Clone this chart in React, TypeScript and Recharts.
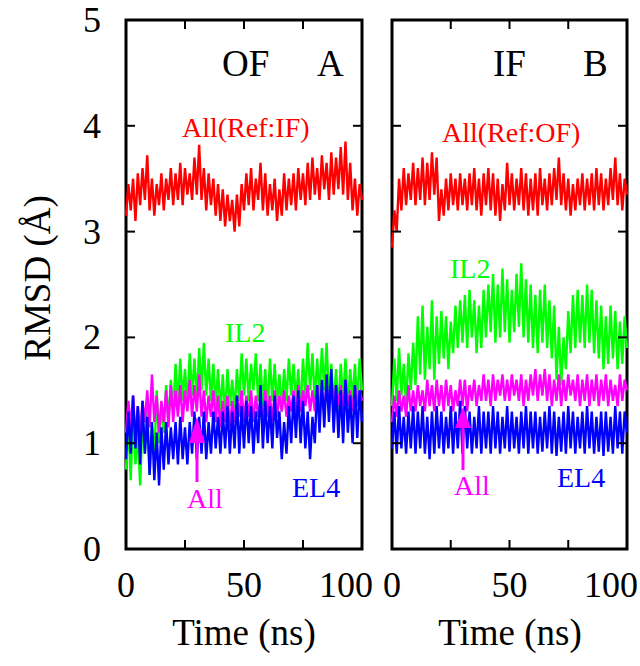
import { LineChart, Line, XAxis, YAxis, ReferenceArea } from 'recharts'

const time = [
  0, 1, 2, 3, 4, 5, 6, 7, 8, 9, 10, 11, 12, 13, 14, 15, 16, 17, 18, 19, 20, 21, 22, 23, 24, 25, 26, 27, 28, 29,
  30, 31, 32, 33, 34, 35, 36, 37, 38, 39, 40, 41, 42, 43, 44, 45, 46, 47, 48, 49, 50, 51, 52, 53, 54, 55, 56, 57, 58, 59,
  60, 61, 62, 63, 64, 65, 66, 67, 68, 69, 70, 71, 72, 73, 74, 75, 76, 77, 78, 79, 80, 81, 82, 83, 84, 85, 86, 87, 88, 89,
  90, 91, 92, 93, 94, 95, 96, 97, 98, 99, 100,
]

// panel A (OF)
const refA = [
  3.15, 3.45, 3.2, 3.5, 3.1, 3.55, 3.25, 3.6, 3.3, 3.72,
  3.2, 3.5, 3.15, 3.45, 3.25, 3.55, 3.2, 3.5, 3.3, 3.6,
  3.25, 3.55, 3.3, 3.65, 3.25, 3.6, 3.35, 3.55, 3.3, 3.7,
  3.35, 3.82, 3.3, 3.6, 3.2, 3.55, 3.25, 3.5, 3.15, 3.45,
  3.1, 3.4, 3.05, 3.35, 3.1, 3.3, 3.0, 3.35, 3.05, 3.45,
  3.2, 3.55, 3.25, 3.6, 3.2, 3.5, 3.3, 3.65, 3.2, 3.55,
  3.15, 3.45, 3.2, 3.5, 3.1, 3.4, 3.15, 3.55, 3.2, 3.5,
  3.25, 3.55, 3.2, 3.6, 3.3, 3.55, 3.25, 3.65, 3.3, 3.7,
  3.35, 3.6, 3.3, 3.72, 3.4, 3.65, 3.3, 3.75, 3.35, 3.7,
  3.4, 3.8, 3.35, 3.85, 3.3, 3.65, 3.2, 3.5, 3.15, 3.45,
  3.3,
]
const il2A = [
  0.75, 1.2, 0.65, 1.3, 0.8, 1.1, 0.6, 1.25, 0.9, 1.4,
  0.7, 1.15, 0.85, 1.5, 1.0, 1.35, 1.1, 1.55, 1.2, 1.6,
  1.3, 1.75, 1.35, 1.8, 1.4, 1.7, 1.35, 1.85, 1.45, 1.8,
  1.4, 1.9, 1.5, 1.95, 1.45, 1.8, 1.4, 1.75, 1.35, 1.7,
  1.3, 1.65, 1.25, 1.7, 1.35, 1.6, 1.3, 1.7, 1.4, 1.85,
  1.45, 1.8, 1.4, 1.75, 1.5, 1.85, 1.4, 1.75, 1.35, 1.7,
  1.3, 1.8, 1.4, 1.75, 1.35, 1.65, 1.3, 1.7, 1.4, 1.8,
  1.45, 1.75, 1.4, 1.7, 1.3, 1.8, 1.45, 1.95, 1.5, 1.85,
  1.4, 1.8, 1.45, 1.9, 1.5, 1.95, 1.4, 1.75, 1.35, 1.7,
  1.3, 1.75, 1.4, 1.8, 1.35, 1.7, 1.4, 1.75, 1.35, 1.8,
  1.5,
]
const allA = [
  1.1, 1.4, 1.15, 1.45, 1.05, 1.35, 1.1, 1.4, 1.2, 1.5,
  1.15, 1.65, 1.2, 1.45, 1.1, 1.4, 1.2, 1.5, 1.15, 1.55,
  1.2, 1.5, 1.25, 1.55, 1.2, 1.5, 1.3, 1.6, 1.25, 1.55,
  1.3, 1.65, 1.25, 1.5, 1.2, 1.45, 1.25, 1.5, 1.2, 1.45,
  1.15, 1.4, 1.2, 1.45, 1.15, 1.4, 1.2, 1.45, 1.25, 1.5,
  1.2, 1.45, 1.25, 1.5, 1.2, 1.45, 1.25, 1.4, 1.2, 1.5,
  1.25, 1.45, 1.2, 1.5, 1.25, 1.45, 1.3, 1.5, 1.25, 1.45,
  1.3, 1.5, 1.25, 1.55, 1.3, 1.5, 1.35, 1.55, 1.3, 1.5,
  1.3, 1.55, 1.35, 1.5, 1.3, 1.55, 1.35, 1.6, 1.3, 1.55,
  1.35, 1.55, 1.3, 1.6, 1.35, 1.5, 1.3, 1.55, 1.35, 1.5,
  1.4,
]
const el4A = [
  0.85, 1.3, 0.9, 1.45, 0.95, 1.35, 0.8, 1.4, 0.9, 1.25,
  0.7, 1.2, 0.65, 1.1, 0.6, 1.15, 0.75, 1.2, 0.8, 1.15,
  0.85, 1.2, 0.8, 1.25, 0.85, 1.15, 0.8, 1.2, 0.9, 1.3,
  0.85, 1.25, 0.9, 1.3, 0.85, 1.2, 0.9, 1.3, 0.95, 1.25,
  0.9, 1.3, 0.95, 1.35, 0.9, 1.3, 0.95, 1.45, 0.9, 1.35,
  0.95, 1.4, 1.0, 1.35, 0.9, 1.3, 1.0, 1.55, 0.95, 1.4,
  1.0, 1.35, 0.95, 1.45, 1.05, 1.3, 0.85, 1.2, 0.9, 1.35,
  1.0, 1.45, 1.05, 1.5, 1.0, 1.4, 0.95, 1.3, 0.85, 1.25,
  1.0, 1.55, 1.1, 1.6, 1.15, 1.65, 1.2, 1.7, 1.1, 1.55,
  1.05, 1.5, 1.0, 1.6, 1.1, 1.45, 1.0, 1.55, 1.05, 1.5,
  1.2,
]

// panel B (IF)
const refB = [
  2.85, 3.2, 3.0, 3.5, 3.2, 3.6, 3.25, 3.55, 3.3, 3.65,
  3.25, 3.6, 3.3, 3.7, 3.25, 3.65, 3.3, 3.75, 3.35, 3.7,
  3.1, 3.4, 3.15, 3.5, 3.2, 3.55, 3.25, 3.5, 3.2, 3.55,
  3.25, 3.5, 3.2, 3.55, 3.25, 3.6, 3.2, 3.5, 3.15, 3.55,
  3.25, 3.6, 3.2, 3.55, 3.15, 3.5, 3.1, 3.45, 3.2, 3.65,
  3.25, 3.55, 3.2, 3.5, 3.25, 3.6, 3.2, 3.55, 3.15, 3.5,
  3.2, 3.55, 3.15, 3.6, 3.25, 3.5, 3.2, 3.55, 3.25, 3.6,
  3.3, 3.7, 3.25, 3.55, 3.2, 3.5, 3.15, 3.45, 3.2, 3.5,
  3.25, 3.55, 3.2, 3.5, 3.25, 3.55, 3.2, 3.6, 3.25, 3.55,
  3.2, 3.5, 3.25, 3.6, 3.3, 3.7, 3.25, 3.55, 3.2, 3.5,
  3.35,
]
const il2B = [
  1.35, 1.8, 1.4, 1.9, 1.45, 1.75, 1.35, 1.85, 1.5, 1.95,
  1.55, 2.2, 1.65, 2.3, 1.6, 2.1, 1.7, 2.35, 1.6, 2.2,
  1.75, 2.25, 1.8, 2.2, 1.7, 2.15, 1.85, 2.3, 1.9, 2.35,
  1.95, 2.4, 1.9, 2.45, 2.0, 2.35, 1.85, 2.3, 1.9, 2.45,
  2.0, 2.5, 2.05, 2.6, 1.95, 2.5, 2.0, 2.65, 2.05, 2.55,
  1.95, 2.45, 2.05, 2.6, 2.1, 2.7, 2.0, 2.55, 1.95, 2.5,
  1.9, 2.4, 1.85, 2.45, 1.95, 2.5, 1.9, 2.35, 1.8, 2.3,
  1.6, 2.1, 1.55, 2.0, 1.7, 2.25, 1.85, 2.4, 1.9, 2.45,
  1.95, 2.4, 1.9, 2.5, 1.95, 2.45, 1.85, 2.35, 1.8, 2.3,
  1.7, 2.2, 1.75, 2.3, 1.8, 2.25, 1.7, 2.15, 1.75, 2.2,
  1.9,
]
const allB = [
  1.2, 1.45, 1.25, 1.5, 1.3, 1.45, 1.25, 1.55, 1.3, 1.5,
  1.3, 1.55, 1.35, 1.5, 1.3, 1.6, 1.35, 1.55, 1.3, 1.6,
  1.35, 1.55, 1.3, 1.6, 1.35, 1.55, 1.3, 1.5, 1.35, 1.6,
  1.35, 1.6, 1.3, 1.55, 1.4, 1.6, 1.35, 1.55, 1.4, 1.65,
  1.4, 1.6, 1.35, 1.65, 1.4, 1.6, 1.45, 1.65, 1.4, 1.6,
  1.4, 1.65, 1.45, 1.6, 1.4, 1.65, 1.35, 1.6, 1.4, 1.65,
  1.45, 1.7, 1.4, 1.65, 1.45, 1.7, 1.4, 1.65, 1.35, 1.6,
  1.4, 1.65, 1.35, 1.6, 1.4, 1.65, 1.45, 1.6, 1.4, 1.65,
  1.35, 1.6, 1.4, 1.65, 1.35, 1.6, 1.4, 1.65, 1.35, 1.6,
  1.4, 1.65, 1.35, 1.6, 1.4, 1.55, 1.35, 1.65, 1.4, 1.6,
  1.5,
]
const el4B = [
  0.95, 1.3, 0.9, 1.35, 0.95, 1.25, 0.9, 1.3, 0.95, 1.35,
  0.9, 1.3, 0.95, 1.35, 0.9, 1.25, 0.85, 1.3, 0.9, 1.35,
  0.95, 1.3, 0.9, 1.25, 0.95, 1.35, 0.9, 1.3, 0.95, 1.4,
  0.9, 1.35, 0.95, 1.3, 0.9, 1.25, 0.95, 1.35, 0.9, 1.3,
  0.95, 1.3, 0.9, 1.35, 0.95, 1.3, 0.9, 1.25, 0.95, 1.35,
  0.92, 1.3, 0.95, 1.25, 0.9, 1.3, 0.95, 1.35, 0.9, 1.3,
  0.95, 1.3, 0.9, 1.25, 0.92, 1.3, 0.95, 1.35, 0.9, 1.3,
  0.88, 1.25, 0.92, 1.3, 0.9, 1.35, 0.95, 1.3, 0.9, 1.25,
  0.95, 1.3, 0.9, 1.35, 0.95, 1.3, 0.9, 1.25, 0.92, 1.3,
  0.88, 1.3, 0.92, 1.25, 0.9, 1.35, 0.95, 1.3, 0.9, 1.3,
  1.1,
]

const xTicks = [0, 25, 50, 75, 100]
const xLabels = [0, 50, 100]
const yTicks = [0, 1, 2, 3, 4, 5]

const FONT = '"Liberation Serif", "Times New Roman", serif'
const TOP = 20
const BOTTOM = 549
const TICK = 9
const LW = 2.4

const rowsA = time.map((t, i) => ({ t, ref: refA[i], il2: il2A[i], all: allA[i], el4: el4A[i] }))
const rowsB = time.map((t, i) => ({ t, ref: refB[i], il2: il2B[i], all: allB[i], el4: el4B[i] }))

function makeXTick() {
  return (props: any) => {
    const { x, payload } = props
    const v = payload.value
    const shift = v === 100 ? -16 : 0
    return (
      <g>
        <line x1={x} y1={BOTTOM} x2={x} y2={BOTTOM - TICK} stroke="#000" strokeWidth={2} />
        <line x1={x} y1={TOP} x2={x} y2={TOP + TICK} stroke="#000" strokeWidth={2} />
        {xLabels.includes(v) && (
          <text x={x + shift} y={597} textAnchor="middle" fontSize={36} fontFamily={FONT} fill="#000">
            {v}
          </text>
        )}
      </g>
    )
  }
}

function makeYTick(left: number, right: number, labels: boolean) {
  return (props: any) => {
    const { y, payload } = props
    return (
      <g>
        <line x1={left} y1={y} x2={left + TICK} y2={y} stroke="#000" strokeWidth={2} />
        <line x1={right} y1={y} x2={right - TICK} y2={y} stroke="#000" strokeWidth={2} />
        {labels && (
          <text x={left - 25} y={y + 12} textAnchor="end" fontSize={36} fontFamily={FONT} fill="#000">
            {payload.value}
          </text>
        )}
      </g>
    )
  }
}

function Panel({ rows, width, yWidth, right, labels }: any) {
  const left = yWidth
  const plotRight = width - right
  return (
    <LineChart width={width} height={666} data={rows} margin={{ top: TOP, right, bottom: 57, left: 0 }}>
      <XAxis
        type="number"
        dataKey="t"
        domain={[0, 100]}
        ticks={xTicks}
        height={60}
        axisLine={false}
        tickLine={false}
        tick={makeXTick()}
        interval={0}
      />
      <YAxis
        type="number"
        domain={[0, 5]}
        ticks={yTicks}
        width={yWidth}
        axisLine={false}
        tickLine={false}
        tick={makeYTick(left, plotRight, labels)}
        interval={0}
      />
      <Line type="linear" dataKey="ref" stroke="#ff0000" strokeWidth={LW} dot={false} isAnimationActive={false} />
      <Line type="linear" dataKey="il2" stroke="#00ff00" strokeWidth={LW} dot={false} isAnimationActive={false} />
      <Line type="linear" dataKey="all" stroke="#ff00ff" strokeWidth={LW} dot={false} isAnimationActive={false} />
      <Line type="linear" dataKey="el4" stroke="#0000ff" strokeWidth={LW} dot={false} isAnimationActive={false} />
      <ReferenceArea x1={0} x2={100} y1={0} y2={5} fill="none" stroke="#000" strokeWidth={3} ifOverflow="visible" />
    </LineChart>
  )
}

function Arrow({ x, y1, y2, base }: { x: number; y1: number; y2: number; base: number }) {
  return (
    <g>
      <line x1={x} y1={y1} x2={x} y2={base} stroke="#ff00ff" strokeWidth={3} />
      <polygon points={`${x},${y2} ${x - 8},${base} ${x + 8},${base}`} fill="#ff00ff" />
    </g>
  )
}

export default function App() {
  return (
    <div style={{ position: 'absolute', left: 0, top: 0, width: 640, height: 666, background: '#fff', fontFamily: FONT }}>
      <div style={{ position: 'absolute', left: 0, top: 0 }}>
        <Panel rows={rowsA} width={380} yWidth={126} right={18} labels={true} />
      </div>
      <div style={{ position: 'absolute', left: 380, top: 0 }}>
        <Panel rows={rowsB} width={260} yWidth={12} right={13} labels={false} />
      </div>
      <svg width={640} height={666} style={{ position: 'absolute', left: 0, top: 0, pointerEvents: 'none' }} fontFamily={FONT}>
        <text transform="translate(50,278) rotate(-90)" textAnchor="middle" fontSize={37} fill="#000">
          RMSD (Å)
        </text>
        <text x={244} y={645} textAnchor="middle" fontSize={37} fill="#000">Time (ns)</text>
        <text x={510} y={645} textAnchor="middle" fontSize={37} fill="#000">Time (ns)</text>

        <text x={222} y={76} fontSize={37} fill="#000">OF</text>
        <text x={317} y={76} fontSize={37} fill="#000">A</text>
        <text x={493} y={76} fontSize={37} fill="#000">IF</text>
        <text x={583} y={76} fontSize={37} fill="#000">B</text>

        <text x={182} y={137} fontSize={28} fill="#ff0000">All(Ref:IF)</text>
        <text x={442} y={142} fontSize={28} fill="#ff0000">All(Ref:OF)</text>
        <text x={225} y={342} fontSize={28} fill="#00ff00">IL2</text>
        <text x={450} y={278} fontSize={28} fill="#00ff00">IL2</text>
        <text x={187} y={508} fontSize={28} fill="#ff00ff">All</text>
        <text x={454} y={495} fontSize={28} fill="#ff00ff">All</text>
        <text x={292} y={497} fontSize={28} fill="#0000ff">EL4</text>
        <text x={557} y={487} fontSize={28} fill="#0000ff">EL4</text>

        <Arrow x={197} y1={482} y2={417} base={443} />
        <Arrow x={463} y1={470} y2={407} base={428} />
      </svg>
    </div>
  )
}
